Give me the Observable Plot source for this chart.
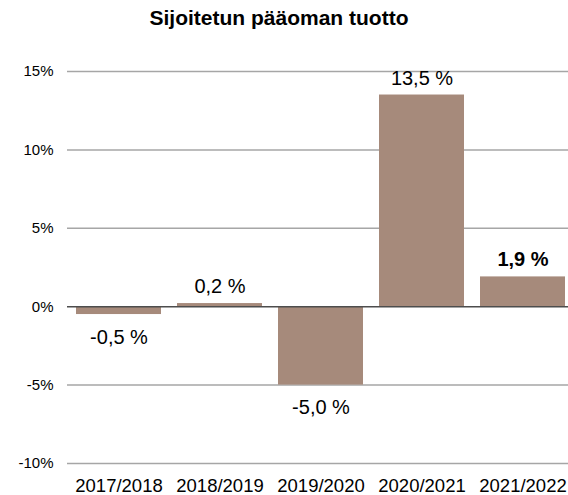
<!DOCTYPE html>
<html>
<head>
<meta charset="utf-8">
<script src="https://cdn.jsdelivr.net/npm/d3@7"></script>
<script src="https://cdn.jsdelivr.net/npm/@observablehq/plot@0.6"></script>
<style>
  html, body { margin: 0; padding: 0; background: #fff; }
  #wrap { width: 568px; height: 495px; position: relative; font-family: "Liberation Sans", Arial, sans-serif; }
  #title { position: relative; height: 40px; }
  #title span { position: absolute; left: 279px; top: 7px; transform: translateX(-50%); font-size: 21px; line-height: 21px; font-weight: bold; white-space: nowrap; color: #000; }
  #chart svg { display: block; }
</style>
</head>
<body>
<div id="wrap">
  <div id="title"><span>Sijoitetun pääoman tuotto</span></div>
  <div id="chart"></div>
</div>
<script>
const years = ["2017/2018", "2018/2019", "2019/2020", "2020/2021", "2021/2022"];
const returns = [-0.5, 0.2, -5.0, 13.5, 1.9];
const yTicks = [-10, -5, 0, 5, 10, 15];
const highlighted = ["2021/2022"];

const data = years.map((year, i) => ({year, value: returns[i]}));
const fmt = v => v.toFixed(1).replace(".", ",") + " %";
const posPlain = data.filter(d => d.value >= 0 && !highlighted.includes(d.year));
const negPlain = data.filter(d => d.value < 0 && !highlighted.includes(d.year));
const bold = data.filter(d => highlighted.includes(d.year));

const font = "'Liberation Sans', Arial, sans-serif";

const chart = Plot.plot({
  width: 568,
  height: 455,
  marginLeft: 67,
  marginRight: 0,
  marginTop: 31,
  marginBottom: 32,
  style: {fontFamily: font, background: "#fff", color: "#000"},
  x: {domain: years, range: [67, 573], paddingInner: 0.16, paddingOuter: 0.08, label: null},
  y: {domain: [-10, 15], label: null},
  marks: [
    Plot.ruleY(yTicks.filter(t => t !== 0), {stroke: "#a6a6a6", strokeWidth: 1.5}),
    Plot.barY(data, {x: "year", y: "value", fill: "#a68a7b"}),
    Plot.ruleY([0], {stroke: "#4d4d4d", strokeWidth: 1.5}),
    Plot.axisY({ticks: yTicks, tickSize: 0, tickPadding: 14, tickFormat: d => d + "%", fontSize: 15, label: null}),
    Plot.axisX({tickSize: 0, tickPadding: 15, fontSize: 18.5, label: null}),
    Plot.text(posPlain, {x: "year", y: "value", text: d => fmt(d.value), dy: -16.9, fontSize: 20, fill: "#000"}),
    Plot.text(negPlain, {x: "year", y: "value", text: d => fmt(d.value), dy: 22.6, fontSize: 20, fill: "#000"}),
    Plot.text(bold, {x: "year", y: "value", text: d => fmt(d.value), dy: -16.9, fontSize: 20, fontWeight: "bold", fill: "#000"})
  ]
});
document.getElementById("chart").appendChild(chart);
</script>
</body>
</html>
